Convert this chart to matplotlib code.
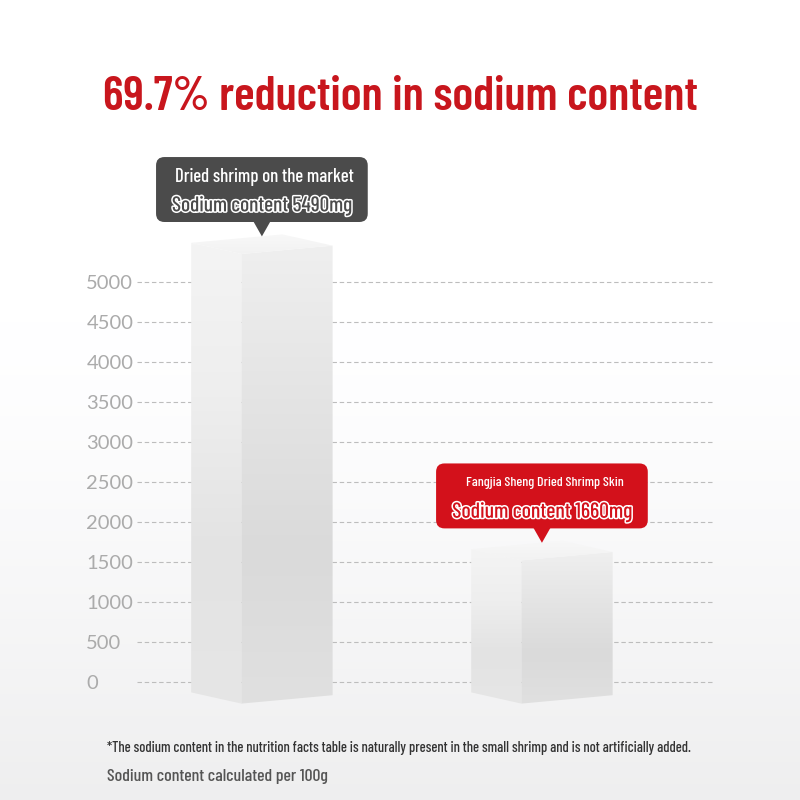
import numpy as np
import matplotlib
matplotlib.use("Agg")
import matplotlib.pyplot as plt
import matplotlib.patheffects as pe
from matplotlib.patches import FancyBboxPatch, Polygon

# data
products = ["Dried shrimp on the market", "Fangjia Sheng Dried Shrimp Skin"]
sodium_mg = [5490, 1660]
yticks = [0, 500, 1000, 1500, 2000, 2500, 3000, 3500, 4000, 4500, 5000]
title = "69.7% reduction in sodium content"
footnote = ("*The sodium content in the nutrition facts table is naturally present "
            "in the small shrimp and is not artificially added.")
basis = "Sodium content calculated per 100g"

box_colors = ["#4b4b4b", "#d3111b"]
red = "#c8161d"
cond = ["Barlow Condensed", "DejaVu Sans"]

fig = plt.figure(figsize=(8, 8), dpi=100)

# soft background: white on top, light grey toward the bottom
bg = fig.add_axes([0, 0, 1, 1], zorder=-10)
yy = np.linspace(0, 1, 256)
grad = (1.0 - 0.065 * np.clip((yy - 0.4) / 0.6, 0, 1) ** 1.3).reshape(-1, 1)
bg.imshow(np.dstack([grad, grad, grad * 1.003]).clip(0, 1), aspect="auto",
          extent=(0, 1, 0, 1))
bg.axis("off")

ax = fig.add_axes([137 / 800, 94 / 800, 578 / 800, 480 / 800])
ax.set_facecolor("none")

x = np.arange(len(sodium_mg))
w = 0.505
split = 0.355
base = -130
dv = 140


def face(pts, colors):
    poly = Polygon(pts, closed=True, facecolor="none", edgecolor="none")
    ax.add_patch(poly)
    xs = [p[0] for p in pts]
    ys = [p[1] for p in pts]
    stops = np.array([matplotlib.colors.to_rgb(c) for c in colors])
    g = np.linspace(0, 1, 128)
    pos = np.linspace(0, 1, len(stops))
    img = np.stack([np.interp(g, pos, stops[:, k]) for k in range(3)], axis=-1)
    im = ax.imshow(img[:, None, :], aspect="auto",
                   extent=(min(xs), max(xs), min(ys), max(ys)),
                   origin="upper", zorder=3, interpolation="bilinear")
    im.set_clip_path(poly)


for xi, v in zip(x, sodium_mg):
    L = xi - w / 2
    C = L + w * split
    R = xi + w / 2
    # left face, right face, top face
    face([(L, base), (L, v), (C, v - dv), (C, base - dv)],
         ["#f4f4f4", "#eeeeee", "#e3e3e3", "#e6e6e6"])
    face([(C, base - dv), (C, v - dv), (R, v - 0.25 * dv), (R, base - 0.25 * dv)],
         ["#efefef", "#e4e4e4", "#dadada", "#e0e0e0"])
    face([(L, v), (C, v - dv), (R, v - 0.25 * dv), (L + R - C, v + 0.75 * dv)],
         ["#f8f8f8", "#f2f2f2"])

ax.set_xlim(-0.446, 1.618)
ax.set_ylim(-300, 5700)
ax.set_yticks(yticks)
ax.set_xticks([])
for s in ax.spines.values():
    s.set_visible(False)
ax.yaxis.grid(True, color="#bdbdbd", linewidth=0.8, linestyle=(0, (4, 2.5)), zorder=0)
ax.set_axisbelow(True)
ax.tick_params(axis="y", length=0, pad=36.5, labelsize=14.5, labelcolor="#ababab")
for lab in ax.get_yticklabels():
    lab.set_horizontalalignment("left")
    lab.set_fontfamily(["Lato", "DejaVu Sans"])

texts = []  # (text, target width px)

# callouts
bw = 0.756
bh = 812
for xi, v, name, col, wd in zip(x, sodium_mg, products, box_colors, [180, 158]):
    y0 = v + 260
    box = FancyBboxPatch((xi - bw / 2, y0), bw, bh,
                         boxstyle="round,pad=0,rounding_size=0.03",
                         mutation_aspect=3500, facecolor=col, edgecolor="none",
                         zorder=5, clip_on=False)
    ax.add_patch(box)
    tri = Polygon([(xi - 0.03, y0 + 5), (xi + 0.03, y0 + 5), (xi, v + 80)],
                  closed=True, facecolor=col, edgecolor="none", zorder=5, clip_on=False)
    ax.add_patch(tri)
    t1 = ax.text(xi + 0.01, y0 + bh - 245, name, color="white", fontsize=12,
                 family=cond, weight="medium", ha="center", va="center", zorder=6)
    t2 = ax.text(xi, y0 + bh - 610, f"Sodium content {v}mg", color=col, fontsize=13.5,
                 family=cond, weight="medium", ha="center", va="center", zorder=6,
                 path_effects=[pe.withStroke(linewidth=2.2, foreground="white")])
    texts += [(t1, wd), (t2, 180)]

t = fig.text(0.5, 1 - 97 / 800, title, color=red, fontsize=34, fontweight="semibold",
             family=cond, ha="center", va="center")
texts.append((t, 593))
t = fig.text(107 / 800, 1 - 748 / 800, footnote, color="#333333", fontsize=10.2,
             family=cond, weight="medium", ha="left", va="center")
texts.append((t, 586))
t = fig.text(107 / 800, 1 - 777 / 800, basis, color="#555555", fontsize=13,
             family=cond, weight="medium", ha="left", va="center")
texts.append((t, 221))

# scale each text so its width matches the reference
fig.canvas.draw()
r = fig.canvas.get_renderer()
for t, target in texts:
    wpx = t.get_window_extent(r).width
    t.set_fontsize(t.get_fontsize() * target / wpx)

fig.savefig("out.png", dpi=100)
